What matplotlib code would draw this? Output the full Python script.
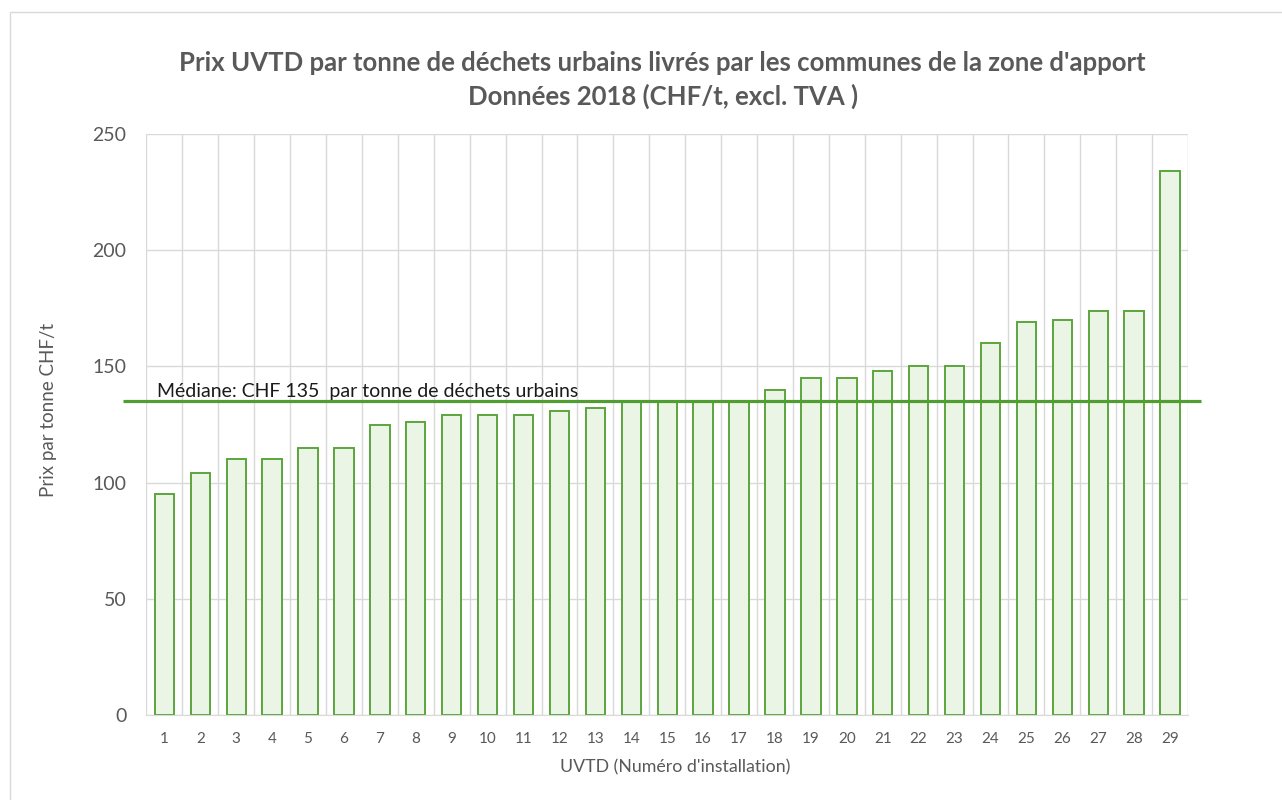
import matplotlib
matplotlib.use("Agg")
import matplotlib.pyplot as plt
from matplotlib.patches import Rectangle

# UVTD price per tonne, sorted ascending
uvtd = [str(i) for i in range(1, 30)]
prix = [95, 104, 110, 110, 115, 115, 125, 126, 129, 129, 129, 131, 132,
        135, 135, 135, 135, 140, 145, 145, 148, 150, 150, 160, 169, 170,
        174, 174, 234]
mediane = 135
label_mediane = "Médiane: CHF 135  par tonne de déchets urbains"
titre = ("Prix UVTD par tonne de déchets urbains livrés par les communes de la zone d'apport\n"
         "Données 2018 (CHF/t, excl. TVA )")

plt.rcParams['font.family'] = ['Lato', 'DejaVu Sans']
txt = '#595959'
grid = '#d9d9d9'

fig = plt.figure(figsize=(12.82, 8.0), dpi=100)
ax = fig.add_axes([0.1142, 0.10625, 0.8125, 0.72625])

# outer chart border (top & left visible only)
fig.patches.append(Rectangle((10 / 1282, -0.1), 1.2, 1.1 - 12 / 800,
                             transform=fig.transFigure, fill=False,
                             edgecolor='#d9d9d9', lw=1.0))

x = list(range(len(uvtd)))
ax.bar(x, prix, width=0.54, color='#ebf5e6', edgecolor='#5ca53c', lw=1.4, zorder=2)

# median line runs a bit past the plot area on both sides
ax.plot([-1.15, len(uvtd) - 0.14], [mediane, mediane], color='#4f9e2f', lw=2.3,
        clip_on=False, zorder=3, solid_capstyle='butt')
ax.text(-0.2, mediane + 2.0, label_mediane, fontsize=14, color='#1a1a1a',
        va='baseline', ha='left', zorder=4)

ax.set_xlim(-0.5, len(uvtd) - 0.5)
ax.set_ylim(0, 250)
ax.set_yticks([0, 50, 100, 150, 200, 250])
ax.set_xticks(x)
ax.set_xticklabels(uvtd)
ax.set_xticks([i - 0.5 for i in range(len(uvtd) + 1)], minor=True)

ax.grid(axis='y', which='major', color=grid, lw=1.0, zorder=0)
ax.grid(axis='x', which='minor', color=grid, lw=1.0, zorder=0)
ax.grid(axis='x', which='major', visible=False)
for s in ['top', 'right', 'left']:
    ax.spines[s].set_visible(False)
ax.spines['bottom'].set_color(grid)
ax.tick_params(axis='both', which='both', length=0, colors=txt)
ax.tick_params(axis='y', labelsize=14, pad=14.5)
ax.tick_params(axis='x', labelsize=11, pad=12)

# axis titles
fig.text(675 / 1282, 1 - 767 / 800, "UVTD (Numéro d'installation)", ha='center',
         va='center', fontsize=12.8, color=txt)
fig.text(49 / 1282, 1 - 410 / 800, "Prix par tonne CHF/t", ha='center',
         va='center', rotation=90, fontsize=13.5, color=txt)

fig.text(0.517, 1 - 80 / 800, titre, ha='center', va='center', fontsize=18.5,
         fontweight='bold', color=txt, linespacing=1.42)

fig.savefig("out.png", dpi=100)
